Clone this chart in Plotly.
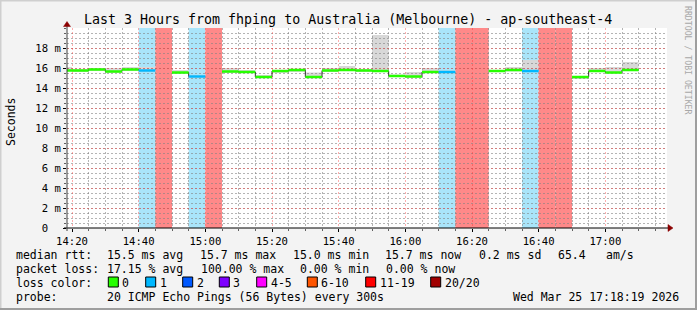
import plotly.graph_objects as go
import pandas as pd

# ---------------- data ----------------
DAY = "2026-03-25 "
interval_start = ["14:15", "14:20", "14:25", "14:30", "14:35", "14:40", "14:45", "14:50",
                  "14:55", "15:00", "15:05", "15:10", "15:15", "15:20", "15:25", "15:30",
                  "15:35", "15:40", "15:45", "15:50", "15:55", "16:00", "16:05", "16:10",
                  "16:15", "16:20", "16:25", "16:30", "16:35", "16:40", "16:45", "16:50",
                  "16:55", "17:00", "17:05"]
median_ms = [15.75, 15.75, 15.85, 15.65, 15.85, 15.75, None, 15.55,
             15.15, None, 15.65, 15.6, 15.1, 15.7, 15.8, 15.1,
             15.75, 15.8, 15.75, 15.7, 15.2, 15.15, 15.6, 15.6,
             None, None, 15.7, 15.8, 15.7, None, None, 15.1,
             15.7, 15.55, 15.8]
loss_pings = [0, 0, 0, 0, 0, 1, 20, 0,
              1, 20, 0, 0, 0, 0, 0, 0,
              0, 0, 0, 0, 0, 0, 0, 1,
              20, 20, 0, 0, 1, 20, 20, 0,
              0, 0, 0]
smoke_lo_ms = [15.7, 15.6, 15.7, 15.5, 15.7, 15.6, None, 15.4,
               15.0, None, 15.5, 15.5, 15.0, 15.5, 15.6, 15.0,
               15.6, 15.7, 15.6, 15.6, 15.1, 15.0, 15.5, 15.5,
               None, None, 15.6, 15.65, 15.6, None, None, 14.9,
               15.6, 15.45, 15.7]
smoke_hi_ms = [16.1, 15.9, 16.0, 16.0, 16.1, 16.1, None, 15.8,
               15.3, None, 16.0, 15.8, 15.3, 15.8, 15.9, 15.55,
               16.0, 16.2, 15.9, 19.3, 15.35, 15.6, 16.0, 15.75,
               None, None, 15.8, 16.1, 16.8, None, None, 15.2,
               16.0, 16.1, 16.6]

y_tick_vals = [0, 2, 4, 6, 8, 10, 12, 14, 16, 18]
y_tick_text = ["0\u00a0\u00a0", "2 m", "4 m", "6 m", "8 m", "10 m", "12 m", "14 m", "16 m", "18 m"]

title_text = "Last 3 Hours from fhping to Australia (Melbourne) - ap-southeast-4"
line1_text = ["median rtt:", "15.5 ms avg", "15.7 ms max", "15.0 ms min", "15.7 ms now", "0.2 ms sd", "65.4", "am/s"]
line2_text = ["packet loss:", "17.15 % avg", "100.00 % max", "0.00 % min", "0.00 % now"]
line3_head = "loss color:"
loss_legend_labels = ["0", "1", "2", "3", "4-5", "6-10", "11-19", "20/20"]
loss_legend_colors = ["#26ff00", "#00b8ff", "#0059ff", "#7e00ff", "#ff00ff", "#ff5500", "#ff0000", "#a10000"]
line4_text = ["probe:", "20 ICMP Echo Pings (56 Bytes) every 300s", "Wed Mar 25 17:18:19 2026"]

# ---------------- layout geometry (pixels) ----------------
W, H = 697, 310
L, R, T, B = 67, 30, 28, 82
PW, PH = W - L - R, H - T - B
FONT = "DejaVu Sans Mono"


def px(x, y):
    return (x - L) / PW, (H - B - y) / PH


def loss_color(n):
    if n == 0:
        return loss_legend_colors[0]
    if n == 1:
        return loss_legend_colors[1]
    if n == 2:
        return loss_legend_colors[2]
    if n == 3:
        return loss_legend_colors[3]
    if n <= 5:
        return loss_legend_colors[4]
    if n <= 10:
        return loss_legend_colors[5]
    if n <= 19:
        return loss_legend_colors[6]
    return loss_legend_colors[7]


band_colors = {1: "#a9e5fa", 20: "#ff8989"}

step = pd.Timedelta(minutes=5)
t0 = [pd.Timestamp(DAY + s) for s in interval_start]
t1 = [t + step for t in t0]

fig = go.Figure()
shapes = []

# loss bands and smoke (below the grid)
for a, b, m, n, lo, hi in zip(t0, t1, median_ms, loss_pings, smoke_lo_ms, smoke_hi_ms):
    if n > 0:
        shapes.append(dict(type="rect", xref="x", yref="y", x0=a, x1=b, y0=0, y1=20,
                           fillcolor=band_colors.get(n, band_colors[20]), line=dict(width=0), layer="below"))
    if lo is not None:
        shapes.append(dict(type="rect", xref="x", yref="y", x0=a, x1=b, y0=lo, y1=hi,
                           fillcolor="#d8d8d8", line=dict(width=0), layer="below"))

# dark step line (vertical connectors)
fig.add_trace(go.Scatter(x=t0 + [t1[-1]], y=median_ms + [median_ms[-1]], mode="lines",
                         line=dict(color="#303030", width=1, shape="hv"), connectgaps=False,
                         hoverinfo="skip", showlegend=False))

# colored median segments per loss color
segs = {}
for a, b, m, n in zip(t0, t1, median_ms, loss_pings):
    if m is None:
        continue
    c = loss_color(n)
    xs, ys = segs.setdefault(c, ([], []))
    xs += [a, b, None]
    ys += [m, m, None]
for c, (xs, ys) in segs.items():
    fig.add_trace(go.Scatter(x=xs, y=ys, mode="lines", line=dict(color=c, width=2.5),
                             hoverinfo="skip", showlegend=False))

# axes lines and arrows
x0p, y0p = px(64, 228)
x1p, _ = px(668, 228)
shapes.append(dict(type="line", xref="paper", yref="paper", x0=x0p, x1=x1p, y0=y0p, y1=y0p,
                   line=dict(color="#000000", width=1)))
ax, ay0 = px(67, 231)
_, ay1 = px(67, 25)
shapes.append(dict(type="line", xref="paper", yref="paper", x0=ax, x1=ax, y0=ay0, y1=ay1,
                   line=dict(color="#404040", width=1)))


def tri(points):
    pts = [px(x, y) for x, y in points]
    d = "M " + " L ".join(f"{p[0]},{p[1]}" for p in pts) + " Z"
    return dict(type="path", xref="paper", yref="paper", path=d, fillcolor="#8b0000",
                line=dict(color="#8b0000", width=0.5))


shapes.append(tri([(668, 224.5), (673, 228), (668, 231.5)]))
shapes.append(tri([(63.5, 26.5), (67, 21.5), (70.5, 26.5)]))

# frame
for (xa, ya, xb, yb, col) in [(0, 0.5, W, 0.5, "#cfcfcf"), (0.5, 0, 0.5, H, "#cfcfcf"),
                              (0, H - 1, W, H - 1, "#9e9e9e"), (W - 1, 0, W - 1, H, "#9e9e9e")]:
    pa, pb = px(xa, ya), px(xb, yb)
    shapes.append(dict(type="line", xref="paper", yref="paper", x0=pa[0], y0=pa[1], x1=pb[0], y1=pb[1],
                       line=dict(color=col, width=2)))

annotations = []


def text(x, y, s, size=11.5, color="#000000", anchor="left", angle=0):
    p = px(x, y)
    annotations.append(dict(xref="paper", yref="paper", x=p[0], y=p[1], text=s, showarrow=False,
                            xanchor=anchor, yanchor="middle", textangle=angle,
                            font=dict(family=FONT, size=size, color=color)))


text(348, 19, title_text, size=13.3, anchor="center")
text(11, 122, "Seconds", size=11.5, anchor="center", angle=-90)
text(688, 60, "RRDTOOL / TOBI OETIKER", size=8.2, color="#a8a8a8", anchor="center", angle=90)

OFF = 2.5
line1_x = [16, 107.3, 200, 293.3, 385.7, 479.3, 558.3, 606.7]
for x, s in zip(line1_x, line1_text):
    text(x - OFF, 254.5, s)
line2_x = [16, 107.3, 201, 300, 386.7]
for x, s in zip(line2_x, line2_text):
    text(x - OFF, 268.5, s)
text(16 - OFF, 282.5, line3_head)
box_x = [108.3, 145.7, 182.7, 219.3, 256.7, 307.3, 365.7, 430.7]
for bx, lab, col in zip(box_x, loss_legend_labels, loss_legend_colors):
    pa, pb = px(bx, 277), px(bx + 10, 287)
    shapes.append(dict(type="rect", xref="paper", yref="paper", x0=pa[0], y0=pa[1], x1=pb[0], y1=pb[1],
                       fillcolor=col, line=dict(color="#000000", width=1)))
    text(bx + 14.5 - OFF, 282.5, lab)
line4_x = [16, 107.3, 513.3]
for x, s in zip(line4_x, line4_text):
    text(x - OFF, 296.5, s)

MAJOR = "rgba(255,40,40,0.38)"
MINOR = "rgba(130,130,130,0.6)"
DASH = "2px,2px"

fig.update_layout(
    width=W, height=H,
    margin=dict(l=L, r=R, t=T, b=B, pad=0),
    paper_bgcolor="#f3f3f3", plot_bgcolor="#ffffff",
    shapes=shapes, annotations=annotations,
    showlegend=False,
    xaxis=dict(type="date", range=[pd.Timestamp(DAY + "14:18:30"), pd.Timestamp(DAY + "17:18:30")],
               tickformat="%H:%M", tick0=pd.Timestamp(DAY + "14:20"), dtick=20 * 60 * 1000,
               showgrid=True, gridcolor=MAJOR, griddash=DASH, gridwidth=1,
               ticks="outside", ticklen=3, tickcolor="#000000", zeroline=False, showline=False,
               tickfont=dict(family=FONT, size=10.6, color="#000000"),
               minor=dict(dtick=5 * 60 * 1000, showgrid=True, gridcolor=MINOR,
                          griddash=DASH, ticks="outside", ticklen=2, tickcolor="#606060"),
               fixedrange=True),
    yaxis=dict(range=[0, 20], tickmode="array", tickvals=y_tick_vals, ticktext=y_tick_text,
               showgrid=True, gridcolor=MAJOR, griddash=DASH, gridwidth=1,
               ticks="outside", ticklen=3, tickcolor="#000000", zeroline=False, showline=False,
               tickfont=dict(family=FONT, size=10.6, color="#000000"),
               minor=dict(dtick=0.5, tick0=0, showgrid=True, gridcolor=MINOR,
                          griddash=DASH, ticks="outside", ticklen=2, tickcolor="#606060"),
               fixedrange=True),
)

fig.write_html("out.html")
